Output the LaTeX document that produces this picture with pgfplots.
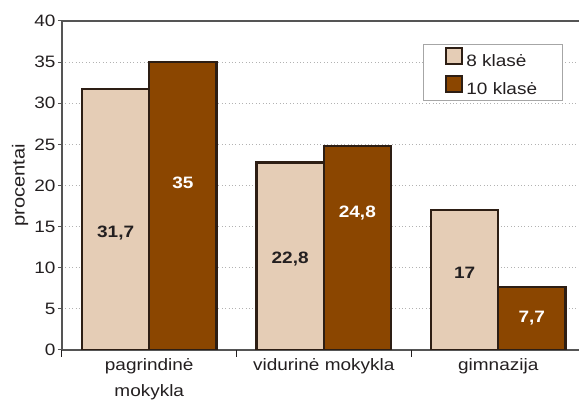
\documentclass[border=0pt]{standalone}
\usepackage{fontspec}
\setmainfont[FakeStretch=1.15]{Liberation Sans}
\usepackage{pgfplots}
\pgfplotsset{compat=1.18}
\definecolor{lightbar}{RGB}{229,205,182}
\definecolor{darkbar}{RGB}{139,70,0}
\definecolor{edge}{RGB}{45,30,20}
\definecolor{txt}{RGB}{35,31,32}
\definecolor{frame}{RGB}{85,85,85}
\newcommand\fs{\fontsize{16.5}{18}\selectfont}
\begin{document}
\begin{tikzpicture}
\begin{axis}[
  at={(0,0)}, anchor=south west,
  scale only axis, width=523.5pt, height=329pt,
  xmin=-0.5, xmax=2.5, ymin=0, ymax=40,
  ytick={0,5,...,40},
  ymajorgrids,
  grid style={draw=gray!60, line width=0.8pt, dash pattern=on 0.8pt off 2.6pt},
  axis line style={draw=frame, line width=1.8pt},
  tick align=outside,
  major tick length=4pt,
  xtick pos=bottom, ytick pos=left,
  ytick style={draw=frame, line width=1pt},
  xtick={0,1,2},
  xticklabels={{pagrindinė\\mokykla},{vidurinė mokykla},{gimnazija}},
  xtick style={draw=none},
  xticklabel style={align=center, font=\fontsize{16.5}{26}\selectfont, text=txt, yshift=-1pt},
  extra x ticks={-0.5,0.5,1.5},
  extra x tick labels={},
  extra x tick style={xtick style={draw=txt, line width=1pt}, major tick length=7pt},
  yticklabel style={font=\fs, text=txt, xshift=1pt},
  /pgf/number format/assume math mode=true,
  ylabel={procentai},
  ylabel style={at={(axis description cs:0,0.5)}, yshift=42pt, anchor=center, font=\fontsize{17.5}{19}\selectfont, text=txt},
  legend style={at={(rel axis cs:0.6896,0.930)}, anchor=north west, draw=gray!70, line width=0.8pt,
    font=\fs, text=txt, inner xsep=22pt, inner ysep=3pt, row sep=5pt, fill=white,
    nodes={inner xsep=3pt}},
  legend cell align=left,
]
\addplot[ybar, bar width=0.385, bar shift=-0.1925, fill=lightbar, draw=edge, line width=2.2pt,
  legend image code/.code={\draw[fill=lightbar, draw=edge, line width=2pt] (0pt,-3pt) rectangle (16pt,13pt);}]
  coordinates {(0,31.7) (1,22.8) (2,17)};
\addlegendentry{8 klasė}
\addplot[ybar, bar width=0.385, bar shift=0.1925, fill=darkbar, draw=edge, line width=2.2pt,
  legend image code/.code={\draw[fill=darkbar, draw=edge, line width=2pt] (0pt,-3pt) rectangle (16pt,13pt);}]
  coordinates {(0,35) (1,24.8) (2,7.7)};
\addlegendentry{10 klasė}
\addplot[draw=none, mark=none, forget plot, nodes near coords, point meta=explicit symbolic,
  every node near coord/.append style={anchor=center, font=\fs\bfseries, text=txt}]
  table[meta=lab]{
x y lab
-0.1925 14.2 31,7
0.8075 11.1 22,8
1.8075 9.4 17
};
\addplot[draw=none, mark=none, forget plot, nodes near coords, point meta=explicit symbolic,
  every node near coord/.append style={anchor=center, font=\fs\bfseries, text=white}]
  table[meta=lab]{
x y lab
0.1925 20.3 35
1.1925 16.7 24,8
2.1925 3.9 7,7
};
\end{axis}
\pgfresetboundingbox
\path (-62pt,-53pt) rectangle (517pt,350pt);
\end{tikzpicture}
\end{document}
